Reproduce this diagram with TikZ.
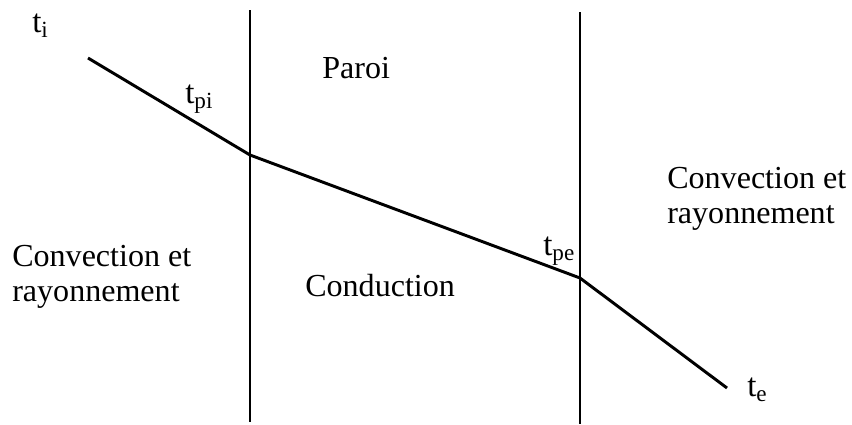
\documentclass[tikz,border=0pt]{standalone}
\usepackage{fontspec}
\setmainfont{Liberation Serif}
\usepackage{tikz}
\usetikzlibrary{positioning}
\tikzset{
  wall/.style   ={line width=1.6pt},
  profil/.style ={line width=2.1pt,line join=round},
  zone/.style   ={inner sep=0pt,align=left,font=\fontsize{22.8}{24.9}\selectfont},
  temp/.style   ={inner sep=0pt,font=\fontsize{23.5}{26}\selectfont},
}

\begin{document}
\begin{tikzpicture}[x=0.025cm,y=-0.025cm]
  \useasboundingbox (0,0) rectangle (852,424);
  % walls (left = inner face, right = outer face)
  \coordinate (wi-top) at (250,10);  \coordinate (wi-bot) at (250,422);
  \coordinate (we-top) at (580,12);  \coordinate (we-bot) at (580,424);
  \draw[wall] (wi-top)--(wi-bot); \draw[wall] (we-top)--(we-bot);
  % temperature profile
  \coordinate (ti)  at (88,58);
  \coordinate (tpi) at (250,155);
  \coordinate (tpe) at (580,278);
  \coordinate (te)  at (727,388);
  \draw[profil] (ti)--(tpi)--(tpe)--(te);
  % temperature labels
  \node[temp,anchor=base west] (lti)  at (32,32)   {t\textsubscript{i}};
  \node[temp,anchor=base west] (ltpi) at (185,103) {t\textsubscript{pi}};
  \node[temp,anchor=base west] (ltpe) at (543,255) {t\textsubscript{pe}};
  \node[temp,anchor=base west] (lte)  at (747,396) {t\textsubscript{e}};
  % zones
  \node[zone,anchor=base west] (paroi) at (322,78)  {Paroi};
  \node[zone,anchor=base west] (cond)  at (305,296) {Conduction};
  \node[zone,anchor=west] (intr) at (12,277)  {Convection et\\rayonnement};
  \node[zone,anchor=west] (extr) at (667,199) {Convection et\\rayonnement};
\end{tikzpicture}
\end{document}
